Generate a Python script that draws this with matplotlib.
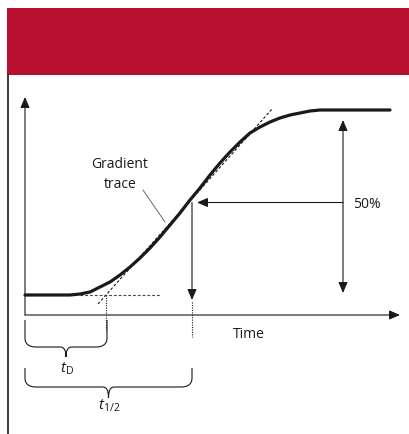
import matplotlib
matplotlib.use("Agg")
import matplotlib.pyplot as plt
from matplotlib.patches import Rectangle, FancyArrowPatch, PathPatch
from matplotlib.path import Path
import numpy as np

plt.rcParams['font.family'] = ['Open Sans', 'DejaVu Sans']
plt.rcParams['mathtext.fontset'] = 'custom'
plt.rcParams['mathtext.it'] = 'Open Sans:italic'
plt.rcParams['mathtext.rm'] = 'Open Sans'

# ---- data (time, signal) ----
time = [0, 45, 55, 65, 75, 85, 95, 105, 115, 125, 135, 145, 155, 165, 175, 185,
        195, 205, 215, 225, 235, 245, 255, 265, 275, 285, 295, 315, 365]
signal = [20, 20, 21, 23, 28, 33, 40, 48, 57, 67, 78, 90, 102, 115, 127, 140,
          152, 163, 173, 182, 188, 193, 197, 200, 202, 204, 205, 205, 205]
baseline = 20
plateau = 205
half = (baseline + plateau) / 2
t_D = 81
t_half = 167
tangent_slope = 1.12
tangent_t = [73, 248]
baseline_dash_t = [55, 135]
measure_t = 318

INK = '#1a1a1a'
fig = plt.figure(figsize=(4.09, 4.34), dpi=100)
fig.patch.set_facecolor('white')

# banner and left rule (layout)
W, H = 409, 434
fig.patches.append(Rectangle((7 / W, 1 - 75 / H), (W - 7) / W, 67 / H,
                             transform=fig.transFigure, facecolor='#B80F2E',
                             edgecolor='none', zorder=0))
fig.lines.append(plt.Line2D([8 / W, 8 / W], [0, 1 - 75 / H], transform=fig.transFigure,
                            color=INK, lw=1.2))

ax = fig.add_axes([0, 0, 1, 1])
ax.set_xlim(-25, 384)
ax.set_ylim(-119, 315)
ax.axis('off')


def arrow(p0, p1, style='-|>', lw=0.8):
    a = FancyArrowPatch(p0, p1, arrowstyle=f'{style},head_length=0.65,head_width=0.28',
                        mutation_scale=10, lw=lw, color=INK, shrinkA=0, shrinkB=0, zorder=3)
    ax.add_patch(a)

# axes
arrow((0, 0), (0, 218))
arrow((0, 0), (375, 0))

# tangent
tt = np.array(tangent_t, dtype=float)
ax.plot(tt, baseline + tangent_slope * (tt - t_D), ls=(0, (2.5, 1.8)), lw=0.8, color=INK, zorder=2)
# baseline dashed
ax.plot(baseline_dash_t, [baseline, baseline], ls=(0, (2.5, 1.8)), lw=0.8, color='#444444', zorder=2)
# dotted verticals
ax.plot([t_D, t_D], [baseline, -15], ls=(0, (1, 1.2)), lw=0.8, color=INK)
ax.plot([t_half, t_half], [13, -22], ls=(0, (1, 1.2)), lw=0.8, color=INK)

# curve
ax.plot(time, signal, color=INK, lw=2.3, solid_joinstyle='round', solid_capstyle='round', zorder=4)

# 50% arrows
arrow((measure_t, half), (t_half + 5, half))
arrow((t_half, half), (t_half, 15))
arrow((measure_t, 195), (measure_t, 22), style='<|-|>')

# texts
ax.text(328, 110, '50%', fontsize=10, ha='left', va='center', color=INK)
ax.text(224, -20, 'Time', fontsize=10, ha='center', va='center', color=INK)
ax.text(95, 150, 'Gradient', fontsize=10, ha='center', va='center', color=INK)
ax.text(95, 130, 'trace', fontsize=10, ha='center', va='center', color=INK)
ax.plot([118, 140], [125, 93], color='#555555', lw=0.6)


def brace(x0, x1, ytop, ymid, ytip):
    xm = (x0 + x1) / 2
    r = 11
    c = 6
    verts = [(x0, ytop), (x0, ymid + 9),
             (x0, ymid + 3), (x0 + 4, ymid), (x0 + r, ymid),
             (xm - c, ymid),
             (xm - 2, ymid), (xm, ymid - 3), (xm, ytip),
             (xm, ymid - 3), (xm + 2, ymid), (xm + c, ymid),
             (x1 - r, ymid),
             (x1 - 4, ymid), (x1, ymid + 3), (x1, ymid + 9),
             (x1, ytop)]
    codes = [Path.MOVETO, Path.LINETO,
             Path.CURVE4, Path.CURVE4, Path.CURVE4,
             Path.LINETO,
             Path.CURVE4, Path.CURVE4, Path.CURVE4,
             Path.CURVE4, Path.CURVE4, Path.CURVE4,
             Path.LINETO,
             Path.CURVE4, Path.CURVE4, Path.CURVE4,
             Path.LINETO]
    ax.add_patch(PathPatch(Path(verts, codes), facecolor='none', edgecolor=INK, lw=0.8))
    return xm

m1 = brace(0, t_D + 1, -5, -32, -42)
m2 = brace(0, t_half, -53, -72, -83)
ax.text(m1 + 1, -54, r'$t_{\mathrm{D}}$', fontsize=11, ha='center', va='center', color=INK)
ax.text(m2 + 1, -91, r'$t_{\mathrm{1/2}}$', fontsize=11, ha='center', va='center', color=INK)

fig.savefig('out.png', dpi=100, facecolor='white')
